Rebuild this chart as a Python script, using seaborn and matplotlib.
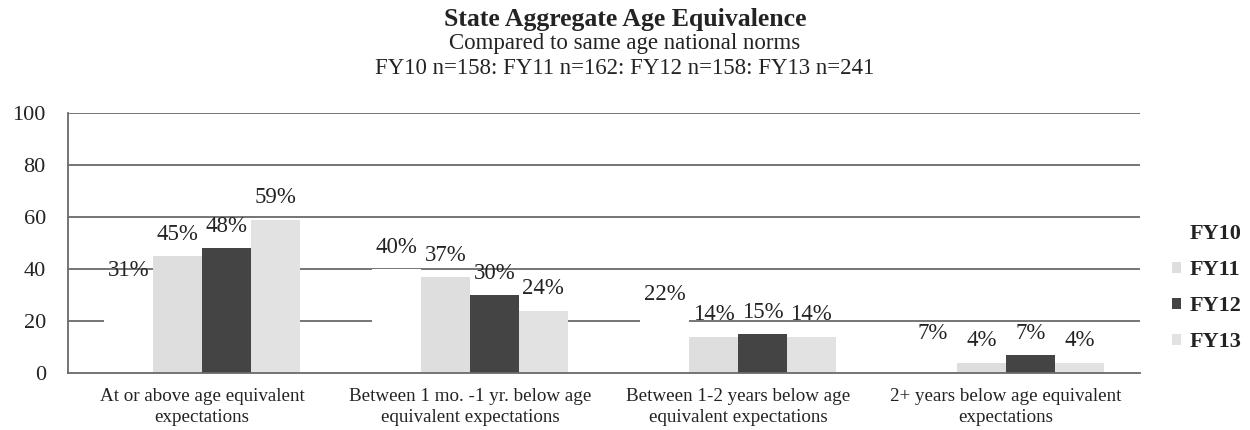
import matplotlib
matplotlib.use("Agg")
import matplotlib.pyplot as plt
from matplotlib.ticker import FixedLocator
import seaborn as sns
import pandas as pd

categories = [
    "At or above age equivalent\nexpectations",
    "Between 1 mo. -1 yr. below age\nequivalent expectations",
    "Between 1-2 years below age\nequivalent expectations",
    "2+ years below age equivalent\nexpectations",
]
years = ["FY10", "FY11", "FY12", "FY13"]
fy10 = [31, 40, 22, 7]
fy11 = [45, 37, 14, 4]
fy12 = [48, 30, 15, 7]
fy13 = [59, 24, 14, 4]
yticks = [0, 20, 40, 60, 80, 100]

title = "State Aggregate Age Equivalence"
subtitle1 = "Compared to same age national norms"
subtitle2 = "FY10 n=158: FY11 n=162: FY12 n=158: FY13 n=241"

series = {"FY10": fy10, "FY11": fy11, "FY12": fy12, "FY13": fy13}
rows = []
for yr in years:
    for cat, val in zip(categories, series[yr]):
        rows.append({"category": cat, "year": yr, "value": val})
df = pd.DataFrame(rows)

sns.set_theme(style="white")
plt.rcParams["font.family"] = ["Liberation Serif", "DejaVu Serif"]

palette = {"FY10": "#ffffff", "FY11": "#dedede", "FY12": "#444444", "FY13": "#e2e2e2"}
text_col = "#232323"
grid_col = "#6a6a6a"

fig = plt.figure(figsize=(12.5, 4.3), dpi=100)
ax = fig.add_axes([0.0544, 0.1326, 0.8576, 0.6048])

sns.barplot(data=df, x="category", y="value", hue="year", palette=palette,
            hue_order=years, order=categories, width=0.73, saturation=1,
            edgecolor="none", linewidth=0, ax=ax, zorder=3)

ax.set_ylim(0, 100)
ax.set_xlim(-0.5, len(categories) - 0.5)
ax.set_yticks(yticks)
ax.set_yticklabels([str(t) for t in yticks], fontsize=16, color=text_col)
for t in yticks[1:]:
    ax.axhline(t, color=grid_col, linewidth=1.3, zorder=1)

ax.set_xticks(range(len(categories)))
ax.set_xticklabels(categories, fontsize=13.7, color=text_col, linespacing=1.3)
ax.tick_params(axis="x", which="major", length=0, pad=11)
ax.xaxis.set_minor_locator(FixedLocator([i - 0.5 for i in range(len(categories) + 1)]))
ax.tick_params(axis="x", which="minor", length=5, width=1, color=grid_col, direction="out")
ax.tick_params(axis="y", length=6, width=1, color=grid_col, direction="out", pad=10)

for side in ["top", "right"]:
    ax.spines[side].set_visible(False)
for side in ["left", "bottom"]:
    ax.spines[side].set_color(grid_col)
    ax.spines[side].set_linewidth(1.3)
    ax.spines[side].set_zorder(4)

ax.set_xlabel("")
ax.set_ylabel("")

for cont in ax.containers:
    vals = [b.get_height() for b in cont]
    ax.bar_label(cont, labels=[f"{v:.0f}%" for v in vals], padding=8,
                 fontsize=16.5, color=text_col, zorder=5)

handles, labels = ax.get_legend_handles_labels()
leg = ax.legend(handles, labels, loc="center left", bbox_to_anchor=(1.011, 0.325),
                frameon=False, handlelength=0.4, handleheight=0.4, handletextpad=0.4,
                labelspacing=0.72, prop={"weight": "bold", "size": 16})
for txt in leg.get_texts():
    txt.set_color(text_col)

fig.text(0.5, 0.955, title, ha="center", va="center", fontsize=18.5,
         fontweight="bold", color=text_col)
fig.text(0.5, 0.898, subtitle1, ha="center", va="center", fontsize=16.5, color=text_col)
fig.text(0.5, 0.840, subtitle2, ha="center", va="center", fontsize=16.5, color=text_col)

fig.savefig("out.png", dpi=100, facecolor="white")
